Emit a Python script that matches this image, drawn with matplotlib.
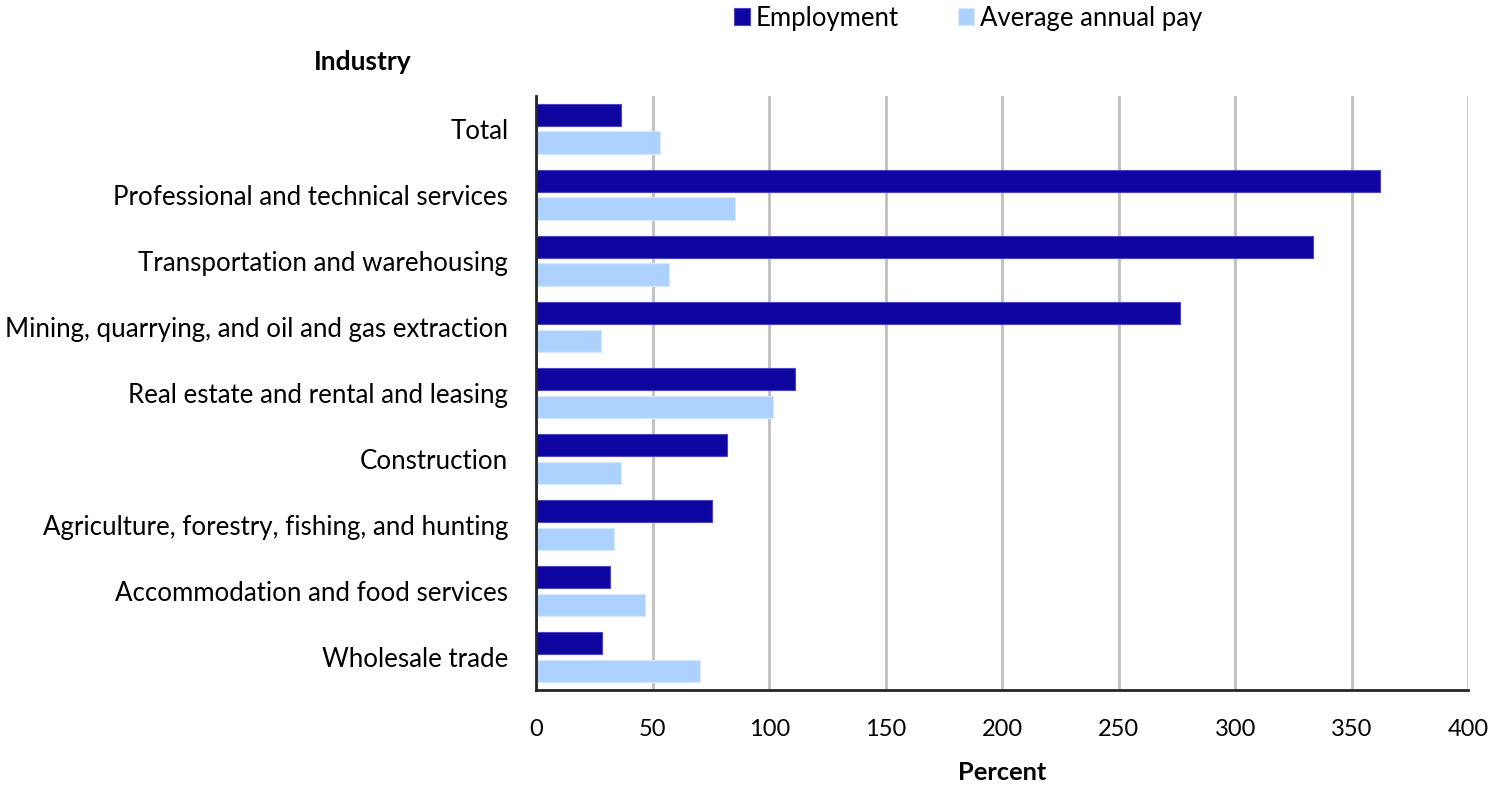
import numpy as np
import matplotlib.pyplot as plt

plt.rcParams["font.family"] = ["Lato", "DejaVu Sans"]

industries = [
    "Total",
    "Professional and technical services",
    "Transportation and warehousing",
    "Mining, quarrying, and oil and gas extraction",
    "Real estate and rental and leasing",
    "Construction",
    "Agriculture, forestry, fishing, and hunting",
    "Accommodation and food services",
    "Wholesale trade",
]
employment = [36.2, 362.0, 333.4, 276.2, 111.2, 81.8, 75.6, 31.7, 28.1]
annual_pay = [53.2, 85.4, 56.8, 27.7, 101.5, 36.2, 33.6, 46.9, 70.2]

emp_color = "#0E04A0"
pay_color = "#AED2FF"

fig = plt.figure(figsize=(15.06, 7.85), dpi=100)
ax = fig.add_axes([0.356, 0.121, 0.619, 0.757])

y = np.arange(len(industries))
h = 0.34
ax.barh(y - 0.21, employment, height=h, color=emp_color, edgecolor="#4A44C0",
        linewidth=0.8, label="Employment", zorder=3)
ax.barh(y + 0.21, annual_pay, height=h, color=pay_color, edgecolor="#D6E8FF",
        linewidth=0.8, label="Average annual pay", zorder=3)

ax.set_ylim(len(industries) - 0.5, -0.5)
ax.set_xlim(0, 400)
ax.set_xticks(np.arange(0, 401, 50))
ax.set_yticks(y)
ax.set_yticklabels(industries, fontsize=18.6)
ax.tick_params(axis="both", length=0)
ax.tick_params(axis="x", labelsize=17, pad=21)
ax.tick_params(axis="y", pad=20)

ax.grid(axis="x", color="#BFBFBF", linewidth=2, zorder=0)
for s in ["top", "right"]:
    ax.spines[s].set_visible(False)
for s in ["left", "bottom"]:
    ax.spines[s].set_color("#262626")
    ax.spines[s].set_linewidth(2)
    ax.spines[s].set_zorder(4)

ax.set_xlabel("Percent", fontsize=18.3, fontweight="bold", labelpad=15)
fig.text(0.241, 0.921, "Industry", fontsize=19, fontweight="bold",
         ha="center", va="center")

ax.legend(loc="center", bbox_to_anchor=(0.643, 0.977), bbox_transform=fig.transFigure,
          ncol=2, frameon=False, fontsize=18.5, handlelength=0.6, handleheight=0.6,
          handletextpad=0.25, columnspacing=2.3)

fig.savefig("out.png", dpi=100)
